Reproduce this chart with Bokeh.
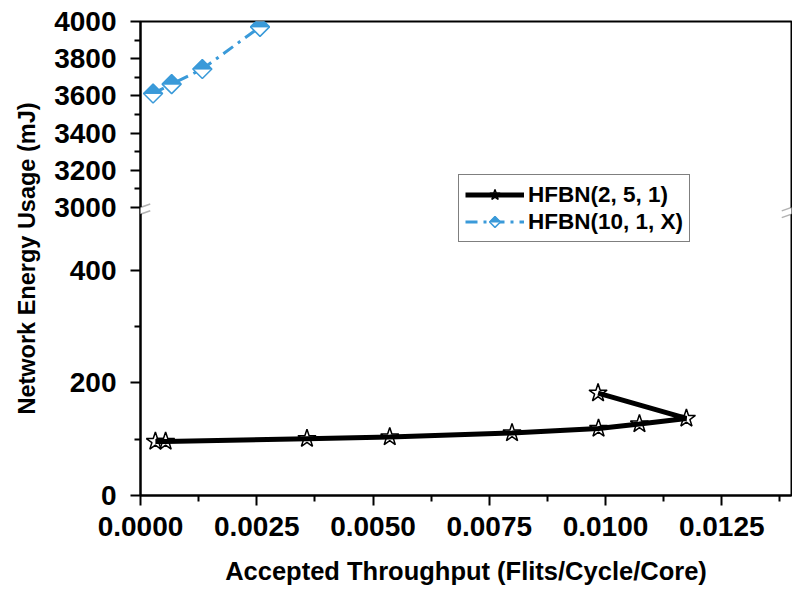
from bokeh.plotting import figure
from bokeh.models import (Range1d, FixedTicker, CustomJSTickFormatter, CustomJSTransform,
                          PolyAnnotation, Legend, LegendItem, ColumnDataSource,
                          PrintfTickFormatter, CustomJS)
from bokeh.transform import transform
from bokeh.embed import file_html
from bokeh.resources import INLINE

# ---------------- data ----------------
series_names = ["HFBN(2, 5, 1)", "HFBN(10, 1, X)"]

hfbn_2_5_1_x = [0.00032, 0.00054, 0.00358, 0.00536, 0.00799, 0.00985, 0.01073, 0.01174, 0.00984]
hfbn_2_5_1_y = [96, 96, 101, 104, 111, 119, 127, 137, 182]

hfbn_10_1_X_x = [0.00027, 0.00067, 0.00133, 0.00257]
hfbn_10_1_X_y = [3613, 3663, 3744, 3971]

x_major_ticks = [0.0, 0.0025, 0.0050, 0.0075, 0.0100, 0.0125]
x_minor_ticks = [0.00125, 0.00375, 0.00625, 0.00875, 0.01125, 0.01375]
y_lower_major = [0, 200, 400]
y_lower_minor = [100, 300]
y_upper_major = [3000, 3200, 3400, 3600, 3800, 4000]
y_upper_minor = [3100, 3300, 3500, 3700, 3900]

x_limits = (0.0, 0.014)
y_lower_limits = (0, 500)
y_upper_limits = (3000, 4000)

x_title = "Accepted Throughput (Flits/Cycle/Core)"
y_title = "Network Energy Usage (mJ)"

BLUE = "#3a9ad9"
FONT = "Liberation Sans"

# broken-axis mapping (gap and compression of upper segment)
GAP = 12.0
K = 0.3304


def brk(v):
    if v <= y_lower_limits[1]:
        return float(v)
    return y_lower_limits[1] + GAP + (v - y_upper_limits[0]) * K


ymap = CustomJSTransform(
    args=dict(lo=y_lower_limits[1], hi0=y_upper_limits[0], gap=GAP, k=K),
    func="return x <= lo ? x : lo + gap + (x - hi0) * k;",
    v_func="""
    const out = new Array(xs.length);
    for (let i = 0; i < xs.length; i++) {
      const v = xs[i];
      out[i] = v <= lo ? v : lo + gap + (v - hi0) * k;
    }
    return out;
    """,
)

p = figure(width=792, height=593,
           x_range=Range1d(*x_limits), y_range=Range1d(0, brk(y_upper_limits[1])),
           output_backend="svg", toolbar_location=None,
           min_border_left=140, min_border_right=1, min_border_top=21, min_border_bottom=98)
p.grid.visible = False
p.outline_line_color = "black"
p.outline_line_width = 2
p.background_fill_color = "white"
p.border_fill_color = "white"

for ax in (p.xaxis[0], p.yaxis[0]):
    ax.axis_line_width = 2
    ax.axis_line_color = "black"
    ax.major_tick_line_width = 2
    ax.minor_tick_line_width = 2
    ax.major_tick_line_color = "black"
    ax.minor_tick_line_color = "black"
    ax.major_tick_in = 0
    ax.minor_tick_in = 0
    ax.major_tick_out = 10
    ax.minor_tick_out = 6
    ax.major_label_text_font = FONT
    ax.major_label_text_font_style = "bold"
    ax.major_label_text_font_size = "28px"
    ax.major_label_text_color = "black"
    ax.axis_label_text_font = FONT
    ax.axis_label_text_font_style = "bold"
    ax.axis_label_text_color = "black"

xa = p.xaxis[0]
xa.ticker = FixedTicker(ticks=x_major_ticks, minor_ticks=x_minor_ticks)
xa.formatter = PrintfTickFormatter(format="%.4f")
xa.axis_label = x_title
xa.axis_label_text_font_size = "25.5px"
xa.major_label_standoff = 11
xa.axis_label_standoff = 18

ya = p.yaxis[0]
ya.ticker = FixedTicker(ticks=[brk(v) for v in y_lower_major + y_upper_major],
                        minor_ticks=[brk(v) for v in y_lower_minor + y_upper_minor])
ya.formatter = CustomJSTickFormatter(
    args=dict(lo=y_lower_limits[1], hi0=y_upper_limits[0], gap=GAP, k=K),
    code="""
    const v = tick <= lo + 1e-9 ? tick : hi0 + (tick - lo - gap) / k;
    return Math.round(v).toString();
    """)
ya.axis_label = y_title
ya.axis_label_text_font_size = "23.5px"
ya.major_label_standoff = 14
ya.axis_label_standoff = 11

src1 = ColumnDataSource(dict(x=hfbn_2_5_1_x, y=hfbn_2_5_1_y))
src2 = ColumnDataSource(dict(x=hfbn_10_1_X_x, y=hfbn_10_1_X_y))
ty = transform("y", ymap)

star_r = p.scatter("x", ty, source=src1, marker="star", size=19,
                   fill_color="white", line_color="black", line_width=1.5)
line1 = p.line("x", ty, source=src1, line_color="black", line_width=5)

line2 = p.line("x", ty, source=src2, line_color=BLUE, line_width=3,
               line_dash="12 6 3 6")

diamond_def = CustomJS(code="""
    const {ctx, i, r, visuals} = cb_data;
    ctx.moveTo(0, -r);
    ctx.lineTo(r, 0);
    ctx.lineTo(0, r);
    ctx.lineTo(-r, 0);
    ctx.closePath();
    visuals.fill.apply(ctx, i);
    visuals.line.apply(ctx, i);
""")
tophalf_def = CustomJS(code="""
    const {ctx, i, r, visuals} = cb_data;
    ctx.moveTo(-r, 0);
    ctx.lineTo(0, -r);
    ctx.lineTo(r, 0);
    ctx.closePath();
    visuals.fill.apply(ctx, i);
    visuals.line.apply(ctx, i);
""")

dia = p.scatter("x", ty, source=src2, marker="@diamond", size=19,
                fill_color="white", line_color=BLUE, line_width=1.5,
                defs={"@diamond": diamond_def})
half = p.scatter("x", ty, source=src2, marker="@tophalf", size=19,
                 fill_color=BLUE, line_color=BLUE, line_width=1,
                 defs={"@tophalf": tophalf_def})

legend = Legend(items=[LegendItem(label=series_names[0], renderers=[star_r, line1]),
                       LegendItem(label=series_names[1], renderers=[line2, dia, half])],
                location=(318, 253))
legend.label_text_font = FONT
legend.label_text_font_style = "bold"
legend.label_text_font_size = "22.5px"
legend.label_text_color = "black"
legend.border_line_color = "black"
legend.border_line_width = 1
legend.background_fill_color = "white"
legend.background_fill_alpha = 1
legend.padding = 6
legend.spacing = 0
legend.margin = 0
legend.glyph_width = 59
legend.glyph_height = 27
legend.label_height = 20
legend.label_standoff = 4
p.add_layout(legend)

# axis-break marks on both vertical spines
dx = 0.00021
dy = 6.2
y_lo = brk(y_lower_limits[1])
y_hi = brk(y_upper_limits[0])
for xc in x_limits:
    p.add_layout(PolyAnnotation(xs=[xc - dx, xc + dx, xc + dx, xc - dx],
                                ys=[y_lo - dy, y_lo + dy, y_hi + dy, y_hi - dy],
                                fill_color="white", fill_alpha=1, line_color=None))
    for yc in (y_lo, y_hi):
        p.add_layout(PolyAnnotation(xs=[xc - dx, xc + dx], ys=[yc - dy, yc + dy],
                                    fill_alpha=0, line_color="black", line_width=1.5))

open("out.html", "w").write(file_html(p, INLINE))
